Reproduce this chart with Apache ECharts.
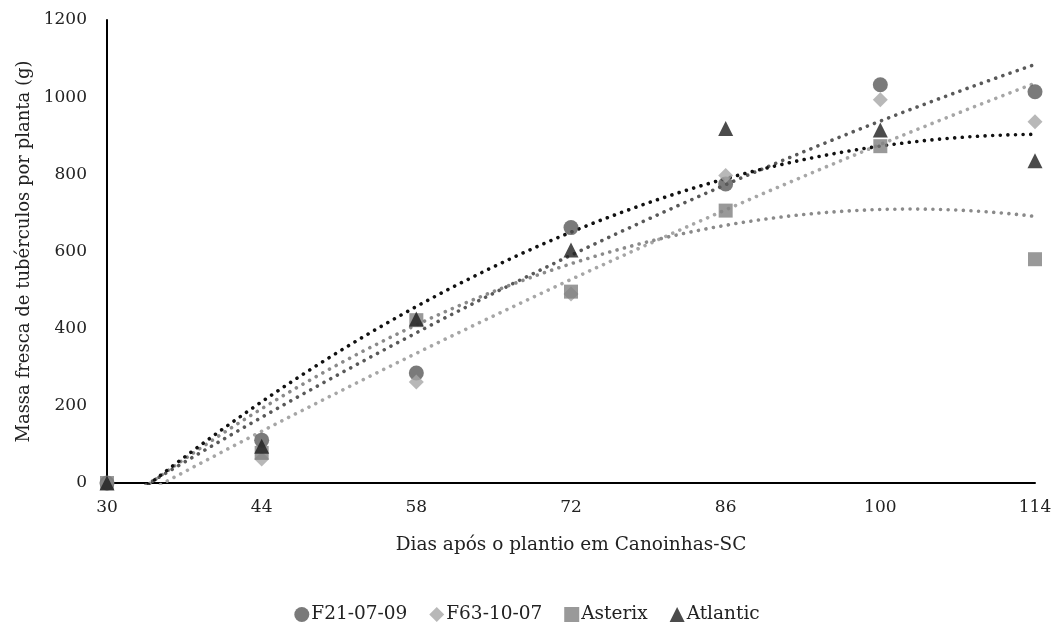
<!DOCTYPE html>
<html>
<head>
<meta charset="utf-8">
<script src="https://cdn.jsdelivr.net/npm/echarts@6/dist/echarts.min.js"></script>
<style>
    html, body { margin: 0; padding: 0; background: #fff; }
    #main { width: 1054px; height: 624px; }
</style>
</head>
<body>
<div id="main"></div>
<script>
// dias apos o plantio
var dias = [30, 44, 58, 72, 86, 100, 114];
var diaTicks = ['30', '44', '58', '72', '86', '100', '114'];
// massa fresca (g) por cultivar
var f21 = [0, 111, 285, 662, 775, 1032, 1014];
var f63 = [0, 62, 262, 490, 797, 993, 936];
var asterix = [0, 78, 422, 496, 706, 873, 580];
var atlantic = [0, 95, 425, 604, 919, 915, 835];

var nomes = ['F21-07-09', 'F63-10-07', 'Asterix', 'Atlantic'];
var cores = ['#595959', '#a6a6a6', '#808080', '#1e1e1e'];
var coresLinha = ['#595959', '#a6a6a6', '#8a8a8a', '#111111'];
var simbolos = ['circle', 'diamond', 'rect', 'triangle'];
var tamanhos = [15, 15, 14, 15];

var fonte = '"DejaVu Serif", "Liberation Serif", serif';

// ajuste polinomial de 2a ordem (linha de tendencia como no Excel)
function ajustePoli2(xs, ys) {
    var n = xs.length, sx = 0, sx2 = 0, sx3 = 0, sx4 = 0, sy = 0, sxy = 0, sx2y = 0;
    for (var i = 0; i < n; i++) {
        var x = xs[i], y = ys[i];
        sx += x; sx2 += x * x; sx3 += x * x * x; sx4 += x * x * x * x;
        sy += y; sxy += x * y; sx2y += x * x * y;
    }
    // resolve o sistema 3x3 por Cramer
    var m = [[n, sx, sx2], [sx, sx2, sx3], [sx2, sx3, sx4]];
    var r = [sy, sxy, sx2y];
    function det(a) {
        return a[0][0] * (a[1][1] * a[2][2] - a[1][2] * a[2][1])
             - a[0][1] * (a[1][0] * a[2][2] - a[1][2] * a[2][0])
             + a[0][2] * (a[1][0] * a[2][1] - a[1][1] * a[2][0]);
    }
    var d = det(m), coef = [];
    for (var k = 0; k < 3; k++) {
        var mk = m.map(function (row, idx) {
            var c = row.slice(); c[k] = r[idx]; return c;
        });
        coef.push(det(mk) / d);
    }
    return coef;
}

// eixo x usa dias - 30 para que os ticks comecem em 0 com intervalo 14
var xs = dias.map(function (d) { return d - 30; });
var todos = [f21, f63, asterix, atlantic];

var series = [];
// linhas de tendencia
for (var s = 0; s < todos.length; s++) {
    var c = ajustePoli2(xs, todos[s]);
    var pts = [];
    for (var x = 0; x <= 84; x += 0.5) {
        pts.push([x, c[0] + c[1] * x + c[2] * x * x]);
    }
    series.push({
        name: nomes[s] + ' tend',
        type: 'line',
        data: pts,
        showSymbol: false,
        smooth: false,
        clip: true,
        silent: true,
        z: 1,
        lineStyle: {
            color: coresLinha[s],
            width: 3.6,
            type: [0.01, 7.6],
            cap: 'round'
        }
    });
}
// pontos observados
for (var s2 = 0; s2 < todos.length; s2++) {
    series.push({
        name: nomes[s2],
        type: 'scatter',
        data: xs.map(function (x, i) { return [x, todos[s2][i]]; }),
        symbol: simbolos[s2],
        symbolSize: tamanhos[s2],
        itemStyle: { color: cores[s2] },
        z: 3
    });
}

var myChart = echarts.init(document.getElementById('main'));
var option = {
    animation: false,
    grid: { left: 107, right: 19, top: 20, bottom: 141, outerBoundsMode: 'none' },
    legend: {
        data: nomes.map(function (n, i) { return { name: n, icon: simbolos[i] }; }),
        top: 600,
        left: 'center',
        itemWidth: 15,
        itemHeight: 15,
        itemGap: 22,
        textStyle: { fontFamily: fonte, fontSize: 18.5, color: '#222', padding: [0, 0, 0, -3] }
    },
    xAxis: {
        type: 'value',
        min: 0,
        max: 84,
        interval: 14,
        name: 'Dias após o plantio em Canoinhas-SC',
        nameLocation: 'middle',
        nameGap: 53,
        nameTextStyle: { fontFamily: fonte, fontSize: 18.5, color: '#222' },
        axisLine: { lineStyle: { color: '#000', width: 2 } },
        axisTick: { show: false },
        splitLine: { show: false },
        axisLabel: {
            margin: 16,
            fontFamily: fonte, fontSize: 17, color: '#222',
            formatter: function (v) { return diaTicks[Math.round(v / 14)]; }
        }
    },
    yAxis: {
        type: 'value',
        min: 0,
        max: 1200,
        interval: 200,
        name: 'Massa fresca de tubérculos por planta (g)',
        nameLocation: 'middle',
        nameGap: 74,
        nameTextStyle: { fontFamily: fonte, fontSize: 18, color: '#222' },
        axisLine: { show: true, lineStyle: { color: '#000', width: 2 } },
        axisTick: { show: false },
        splitLine: { show: false },
        axisLabel: {
            margin: 20, fontFamily: fonte, fontSize: 17, color: '#222',
            formatter: function (v) { return String(v); }
        }
    },
    series: series
};
myChart.setOption(option);
</script>
</body>
</html>
